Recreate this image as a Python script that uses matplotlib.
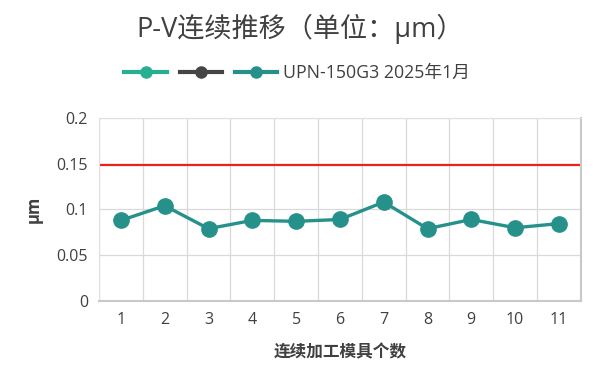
import numpy as np
import matplotlib
matplotlib.use("Agg")
import matplotlib.pyplot as plt
from matplotlib.lines import Line2D
from matplotlib.legend_handler import HandlerTuple

plt.rcParams['font.family'] = ['Open Sans', 'Noto Sans CJK SC', 'DejaVu Sans']

# data
counts = [1, 2, 3, 4, 5, 6, 7, 8, 9, 10, 11]
pv_values = [0.088, 0.104, 0.079, 0.088, 0.087, 0.089, 0.108, 0.079, 0.089, 0.080, 0.0845]
limit_value = 0.148
y_ticks = [0, 0.05, 0.1, 0.15, 0.2]
y_tick_labels = ["0", "0.05", "0.1", "0.15", "0.2"]
series_label = "UPN-150G3 2025年1月"

line_color = "#26918A"
text_color = "#404040"

fig = plt.figure(figsize=(6.0, 3.86), dpi=100)
ax = fig.add_axes([0.165, 0.22, 0.803, 0.475])

# grid: horizontal at ticks, vertical at category borders
for yv in y_ticks:
    ax.axhline(yv, color="#d9d9d9", lw=0.9, zorder=0)
for xb in np.arange(0.5, len(counts) + 1, 1):
    ax.axvline(xb, color="#d9d9d9", lw=0.9, zorder=0)

ax.axhline(limit_value, color="#e8231f", lw=1.6, zorder=2)
ax.plot(counts, pv_values, color=line_color, lw=2.4, marker="o",
        markersize=11, zorder=3)

ax.set_xlim(0.5, len(counts) + 0.5)
ax.set_ylim(0, 0.2)
ax.set_xticks(counts)
ax.set_xticklabels([str(c) for c in counts])
ax.set_yticks(y_ticks)
ax.set_yticklabels(y_tick_labels)
ax.tick_params(length=0, labelsize=11.5, colors=text_color, pad=8)

for side in ["top", "left"]:
    ax.spines[side].set_color("#e0e0e0")
for side in ["right", "bottom"]:
    ax.spines[side].set_color("#c8c8c8")
    ax.spines[side].set_linewidth(1.5)

ax.set_xlabel("连续加工模具个数", fontsize=12, fontweight="bold",
              color=text_color, labelpad=11)
ax.set_ylabel("μm", fontsize=12, fontweight="bold", color=text_color,
              labelpad=10)

fig.text(0.5, 0.925, "P-V连续推移（单位：μm）", ha="center", va="center",
         fontsize=19.5, color=text_color)

h1 = Line2D([], [], color="#26B08F", lw=3, marker="o", markersize=8)
h2 = Line2D([], [], color="#454545", lw=3, marker="o", markersize=8)
h3 = Line2D([], [], color=line_color, lw=3, marker="o", markersize=8)
fig.legend([(h1, h2, h3)], [series_label],
           handler_map={tuple: HandlerTuple(ndivide=None, pad=0.7)},
           loc="center", bbox_to_anchor=(0.495, 0.81), frameon=False,
           handlelength=8.6, handletextpad=0.3, fontsize=12.8,
           labelcolor=text_color)

fig.savefig("out.png", dpi=100)
